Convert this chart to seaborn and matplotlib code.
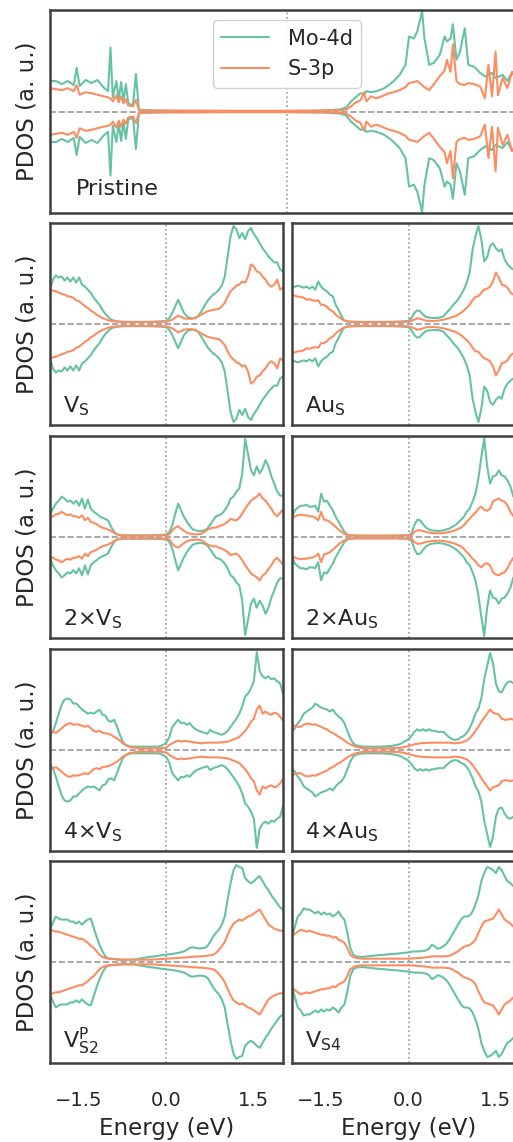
import numpy as np
import pandas as pd
import matplotlib
matplotlib.use("Agg")
import matplotlib.pyplot as plt
import seaborn as sns

# energy grid (eV) shared by the defect panels
energy = [-2.0, -1.95, -1.9, -1.85, -1.8, -1.75, -1.7, -1.65, -1.6, -1.55,
          -1.5, -1.45, -1.4, -1.35, -1.3, -1.25, -1.2, -1.15, -1.1, -1.05,
          -1.0, -0.95, -0.9, -0.85, -0.8, -0.75, -0.7, -0.65, -0.6, -0.55,
          -0.5, -0.45, -0.4, -0.35, -0.3, -0.25, -0.2, -0.15, -0.1, -0.05,
          0.0, 0.05, 0.1, 0.15, 0.2, 0.25, 0.3, 0.35, 0.4, 0.45,
          0.5, 0.55, 0.6, 0.65, 0.7, 0.75, 0.8, 0.85, 0.9, 0.95,
          1.0, 1.05, 1.1, 1.15, 1.2, 1.25, 1.3, 1.35, 1.4, 1.45,
          1.5, 1.55, 1.6, 1.65, 1.7, 1.75, 1.8, 1.85, 1.9, 1.95, 2.0]

# pristine has sharp peaks, so it gets its own energy points
pristine_energy = [-2.00, -1.95, -1.90, -1.85, -1.80, -1.775, -1.75, -1.70, -1.65, -1.60,
                   -1.55, -1.51, -1.49, -1.47, -1.44, -1.42, -1.40, -1.38, -1.36, -1.34,
                   -1.30, -1.275, -1.25, -1.20, -1.00, -0.50, 0.00, 0.30, 0.45, 0.50,
                   0.54, 0.58, 0.62, 0.65, 0.67, 0.71, 0.75, 0.78, 0.82, 0.86,
                   0.90, 0.95, 1.00, 1.03, 1.07, 1.10, 1.14, 1.16, 1.20, 1.24,
                   1.29, 1.33, 1.35, 1.38, 1.40, 1.43, 1.46, 1.50, 1.53, 1.58,
                   1.63, 1.67, 1.70, 1.73, 1.76, 1.78, 1.82, 1.86, 1.90, 1.95, 2.00]
pristine_mo = [.30, .30, .27, .30, .26, .43, .25, .31, .28, .31,
               .24, .20, .63, .14, .30, .12, .29, .10, .27, .08,
               .06, .37, .02, .012, .008, .006, .006, .01, .02, .04,
               .10, .14, .18, .17, .20, .19, .20, .21, .23, .26,
               .30, .36, .46, .74, .72, .79, .99, .72, .46, .48,
               .56, .74, .69, .72, .86, .51, .59, .82, .46, .44,
               .38, .345, .36, .38, .33, .34, .36, .30, .39, .34, .35]
pristine_s = [.23, .22, .21, .23, .20, .26, .165, .19, .18, .165,
              .15, .14, .13, .10, .16, .09, .15, .08, .12, .06,
              .05, .115, .015, .01, .008, .006, .006, .008, .012, .02,
              .05, .09, .11, .19, .10, .15, .13, .14, .16, .18,
              .19, .21, .24, .28, .29, .30, .26, .24, .21, .27,
              .35, .40, .51, .39, .66, .30, .27, .26, .28, .27,
              .245, .13, .46, .15, .59, .16, .33, .23, .39, .28, .30]

vs_mo = [.34, .44, .48, .46, .47, .43, .46, .42, .46, .41,
         .46, .39, .37, .34, .31, .26, .225, .19, .14, .10,
         .07, .043, .033, .028, .023, .022, .021, .02, .02, .02,
         .02, .02, .02, .02, .021, .022, .023, .024, .026, .029,
         .033, .06, .11, .175, .24, .175, .11, .076, .06, .056,
         .06, .083, .126, .175, .225, .26, .29, .31, .34, .38,
         .47, .67, .87, .97, .94, .85, .90, .84, .92, .95,
         .89, .85, .80, .75, .71, .67, .64, .61, .61, .54, .52]
vs_s = [.34, .33, .325, .31, .30, .29, .275, .27, .26, .235,
        .225, .20, .175, .16, .13, .116, .093, .076, .06, .05,
        .036, .03, .026, .024, .022, .021, .02, .02, .02, .02,
        .02, .02, .02, .02, .02, .02, .021, .021, .022, .022,
        .023, .033, .043, .063, .083, .07, .056, .053, .05, .055,
        .063, .078, .093, .11, .126, .133, .14, .145, .15, .175,
        .21, .27, .325, .35, .38, .39, .42, .41, .47, .59,
        .57, .52, .51, .47, .44, .39, .37, .39, .44, .34, .36]

aus_mo = [.36, .37, .38, .37, .36, .37, .35, .37, .34, .42,
          .37, .34, .325, .29, .275, .19, .14, .076, .033, .026,
          .023, .022, .021, .02, .02, .02, .02, .02, .02, .02,
          .02, .02, .02, .02, .021, .022, .023, .024, .026, .028,
          .03, .06, .11, .136, .126, .093, .07, .064, .06, .06,
          .06, .065, .076, .11, .14, .175, .21, .24, .29, .34,
          .41, .51, .74, .87, .97, .84, .62, .66, .77, .80,
          .75, .72, .74, .64, .59, .56, .54, .51, .50, .49, .48]
aus_s = [.29, .28, .27, .27, .26, .24, .245, .235, .23, .235,
         .19, .19, .17, .14, .126, .093, .07, .05, .033, .027,
         .023, .022, .021, .02, .02, .02, .02, .02, .02, .02,
         .02, .02, .02, .02, .02, .02, .021, .021, .022, .022,
         .023, .033, .043, .056, .053, .043, .033, .031, .03, .031,
         .033, .038, .043, .05, .06, .068, .076, .093, .11, .136,
         .16, .19, .235, .27, .275, .31, .34, .35, .37, .42,
         .51, .46, .39, .38, .36, .31, .29, .30, .29, .29, .29]

v2_mo = [.215, .28, .33, .36, .40, .38, .35, .36, .33, .36,
         .31, .38, .28, .37, .28, .25, .23, .205, .19, .18,
         .16, .10, .05, .026, .02, .018, .017, .017, .017, .017,
         .017, .017, .017, .017, .017, .017, .018, .019, .021, .023,
         .026, .05, .116, .23, .33, .265, .20, .15, .11, .076,
         .066, .06, .06, .066, .083, .12, .165, .205, .215, .23,
         .265, .31, .38, .40, .45, .48, .63, .97, .82, .66,
         .61, .70, .63, .68, .76, .70, .60, .53, .45, .41, .41]
v2_s = [.19, .205, .225, .23, .25, .23, .215, .225, .205, .205,
        .19, .215, .165, .19, .15, .14, .126, .106, .093, .083,
        .073, .06, .04, .026, .017, .014, .013, .013, .013, .013,
        .013, .013, .013, .013, .013, .013, .014, .015, .016, .016,
        .017, .026, .066, .093, .106, .083, .06, .043, .033, .029,
        .026, .028, .033, .05, .073, .083, .093, .093, .106, .116,
        .13, .15, .18, .17, .165, .19, .23, .28, .32, .36,
        .38, .40, .43, .38, .36, .32, .28, .23, .205, .24, .27]

au2_mo = [.19, .265, .29, .31, .31, .32, .30, .30, .31, .25,
          .43, .35, .36, .31, .265, .20, .15, .10, .05, .026,
          .017, .015, .014, .013, .013, .013, .013, .013, .013, .013,
          .013, .013, .013, .013, .013, .013, .014, .015, .016, .017,
          .017, .033, .116, .17, .165, .126, .093, .076, .066, .063,
          .06, .062, .066, .075, .083, .10, .116, .14, .17, .20,
          .25, .28, .35, .43, .58, .79, .98, .70, .53, .60,
          .61, .66, .61, .60, .56, .50, .40, .38, .37, .37, .36]
au2_s = [.18, .205, .215, .22, .215, .215, .205, .205, .19, .165,
         .25, .17, .165, .15, .126, .10, .073, .05, .033, .02,
         .016, .014, .013, .013, .013, .013, .013, .013, .013, .013,
         .013, .013, .013, .013, .013, .013, .013, .014, .015, .016,
         .016, .017, .05, .066, .066, .058, .05, .045, .04, .038,
         .036, .038, .04, .045, .05, .058, .066, .08, .093, .116,
         .15, .18, .215, .24, .28, .30, .27, .26, .28, .35,
         .37, .38, .36, .35, .31, .25, .205, .20, .20, .21, .21]

v4_mo = [.15, .18, .265, .36, .45, .50, .51, .50, .46, .46,
         .43, .40, .38, .36, .37, .36, .38, .40, .35, .34,
         .29, .28, .30, .23, .15, .083, .05, .04, .033, .033,
         .033, .033, .033, .033, .033, .033, .033, .033, .04, .053,
         .073, .13, .23, .265, .30, .265, .27, .25, .265, .23,
         .205, .19, .18, .17, .16, .20, .18, .17, .16, .15,
         .165, .19, .23, .27, .31, .36, .43, .53, .56, .61,
         .68, .97, .78, .73, .71, .73, .70, .71, .68, .66, .56]
v4_s = [.20, .18, .17, .19, .215, .24, .26, .265, .25, .255,
        .25, .24, .23, .24, .215, .19, .18, .19, .17, .165,
        .16, .15, .13, .116, .093, .066, .05, .033, .026, .022,
        .02, .018, .017, .017, .017, .017, .017, .017, .018, .02,
        .026, .05, .066, .083, .093, .083, .09, .086, .083, .078,
        .073, .07, .066, .07, .073, .073, .073, .073, .073, .076,
        .08, .083, .093, .106, .116, .13, .16, .19, .23, .28,
        .31, .40, .44, .36, .38, .36, .35, .37, .36, .33, .29]

au4_mo = [.18, .215, .265, .30, .36, .38, .40, .42, .46, .44,
          .42, .41, .40, .38, .40, .36, .33, .31, .265, .19,
          .116, .066, .046, .04, .035, .033, .033, .033, .033, .033,
          .033, .034, .036, .038, .04, .045, .05, .058, .073, .09,
          .106, .14, .18, .205, .19, .205, .19, .205, .19, .19,
          .18, .18, .18, .15, .126, .106, .10, .106, .126, .14,
          .17, .215, .28, .36, .41, .51, .70, .83, .96, .86,
          .66, .58, .57, .63, .67, .68, .66, .64, .62, .60, .58]
au4_s = [.25, .24, .23, .23, .25, .26, .26, .25, .255, .24,
         .23, .215, .205, .18, .17, .15, .13, .116, .093, .073,
         .056, .043, .033, .026, .02, .018, .017, .017, .017, .017,
         .017, .017, .017, .017, .018, .019, .02, .022, .026, .033,
         .04, .048, .056, .061, .066, .068, .07, .071, .073, .073,
         .073, .073, .073, .073, .073, .07, .066, .07, .073, .083,
         .093, .116, .15, .19, .23, .28, .32, .36, .40, .37,
         .36, .35, .31, .30, .30, .31, .30, .30, .30, .30, .30]

vp_mo = [.32, .39, .45, .43, .42, .42, .42, .40, .40, .38,
         .40, .37, .40, .42, .43, .34, .25, .17, .105, .056,
         .036, .033, .03, .027, .023, .023, .023, .023, .023, .025,
         .03, .035, .04, .045, .05, .053, .056, .06, .066, .069,
         .072, .076, .08, .085, .09, .097, .105, .12, .14, .145,
         .14, .135, .135, .14, .155, .20, .25, .29, .32, .37,
         .45, .62, .78, .91, .96, .94, .93, .83, .80, .78,
         .80, .83, .85, .80, .75, .71, .66, .62, .58, .54, .52]
vp_s = [.32, .31, .30, .30, .29, .28, .27, .26, .25, .24,
        .23, .23, .21, .19, .16, .14, .105, .072, .05, .04,
        .033, .03, .028, .025, .023, .023, .023, .023, .023, .023,
        .023, .023, .023, .023, .023, .023, .025, .027, .03, .031,
        .033, .035, .036, .038, .04, .042, .044, .046, .05, .052,
        .053, .055, .056, .059, .062, .067, .072, .09, .12, .155,
        .20, .27, .33, .38, .40, .42, .41, .43, .45, .46,
        .48, .50, .52, .47, .42, .37, .35, .33, .32, .31, .31]

vs4_mo = [.25, .35, .45, .48, .53, .52, .52, .50, .48, .50,
          .47, .49, .47, .48, .45, .47, .50, .45, .42, .29,
          .14, .072, .056, .053, .05, .052, .056, .059, .062, .066,
          .069, .07, .072, .076, .08, .081, .082, .086, .09, .092,
          .095, .10, .105, .105, .105, .11, .115, .13, .17, .155,
          .13, .14, .155, .18, .22, .27, .32, .37, .42, .45,
          .45, .46, .50, .57, .66, .80, .88, .94, .93, .91,
          .88, .94, .91, .85, .80, .78, .75, .72, .70, .68, .66]
vs4_s = [.25, .28, .30, .32, .31, .30, .31, .30, .29, .28,
         .27, .27, .26, .26, .24, .25, .22, .21, .19, .14,
         .072, .05, .04, .036, .033, .033, .033, .033, .033, .033,
         .033, .033, .033, .033, .033, .033, .033, .033, .033, .033,
         .033, .035, .036, .038, .04, .043, .046, .05, .056, .056,
         .056, .056, .056, .058, .062, .072, .09, .105, .13, .15,
         .16, .17, .19, .22, .29, .35, .40, .41, .42, .43,
         .47, .52, .47, .42, .40, .38, .35, .33, .32, .31, .31]

orbitals = ["Mo-4d", "S-3p"]
xtick_vals = [-1.5, 0.0, 1.5]
xtick_labels = ["\u22121.5", "0.0", "1.5"]

panels = [
    ("Pristine", pristine_energy, pristine_mo, pristine_s),
    (r"V$_{\rm S}$", energy, vs_mo, vs_s),
    (r"Au$_{\rm S}$", energy, aus_mo, aus_s),
    (r"2$\times$V$_{\rm S}$", energy, v2_mo, v2_s),
    (r"2$\times$Au$_{\rm S}$", energy, au2_mo, au2_s),
    (r"4$\times$V$_{\rm S}$", energy, v4_mo, v4_s),
    (r"4$\times$Au$_{\rm S}$", energy, au4_mo, au4_s),
    (r"V$_{\rm S2}^{\rm P}$", energy, vp_mo, vp_s),
    (r"V$_{\rm S4}$", energy, vs4_mo, vs4_s),
]


def panel_frame(e, mo, s):
    # spin up as read, spin down mirrored below zero
    parts = []
    for name, vals in zip(orbitals, (mo, s)):
        for spin, sign in (("up", 1.0), ("down", -1.0)):
            parts.append(pd.DataFrame({"Energy": e,
                                       "PDOS": np.asarray(vals) * sign,
                                       "orbital": name, "spin": spin}))
    return pd.concat(parts, ignore_index=True)


sns.set_theme(style="white", palette="Set2")
plt.rcParams["font.family"] = ["DejaVu Sans"]
plt.rcParams["mathtext.fontset"] = "dejavusans"
plt.rcParams["axes.edgecolor"] = ".25"
plt.rcParams["axes.linewidth"] = 1.8

colors = sns.color_palette("Set2", 2)
W, H = 513, 1142
fig = plt.figure(figsize=(W / 100, H / 100), dpi=100)


def add_ax(x, y, w, h):
    return fig.add_axes([x / W, 1 - (y + h) / H, w / W, h / H])


axes = [add_ax(50, 10, 474, 203)]
for top in [223, 436, 649, 861]:
    for left in [50, 292]:
        axes.append(add_ax(left, top, 233, 202))

for i, (ax, (label, e, mo, s)) in enumerate(zip(axes, panels)):
    df = panel_frame(e, mo, s)
    ax.axhline(0, color="0.6", ls="--", lw=1.2, zorder=0)
    ax.axvline(0, color="0.6", ls=":", lw=1.2, zorder=0)
    sns.lineplot(data=df, x="Energy", y="PDOS", hue="orbital", units="spin",
                 estimator=None, sort=False, palette=colors, lw=1.5,
                 legend=(i == 0), ax=ax)
    ax.set_xlim(-2.0, 2.0)
    ax.set_ylim(-1.0, 1.0)
    ax.set_yticks([])
    ax.set_xticks(xtick_vals)
    ax.tick_params(axis="x", length=0, pad=20, labelsize=14, labelcolor=".15")
    bottom_row = i >= 7
    if not bottom_row:
        ax.set_xticklabels([])
        ax.set_xlabel("")
    else:
        ax.set_xticklabels(xtick_labels)
        ax.set_xlabel("Energy (eV)", fontsize=16.5, color=".15", labelpad=5)
    if i == 0 or i % 2 == 1:
        ax.set_ylabel("PDOS (a. u.)", fontsize=16.5, color=".15", labelpad=8)
    else:
        ax.set_ylabel("")
    ybase = 0.089 if i == 0 else (0.075 if i >= 7 else 0.06)
    xl = 0.055 if i == 0 else 0.056
    ax.text(xl, ybase, label, transform=ax.transAxes, fontsize=16,
            color=".15", va="baseline", ha="left")
    if i == 0:
        handles, labels = ax.get_legend_handles_labels()
        ax.legend(handles, labels, loc="upper center", fontsize=15,
                  frameon=True, edgecolor="0.8", framealpha=0.9,
                  handlelength=2.3, handletextpad=0.9)

fig.savefig("out.png", dpi=100)
